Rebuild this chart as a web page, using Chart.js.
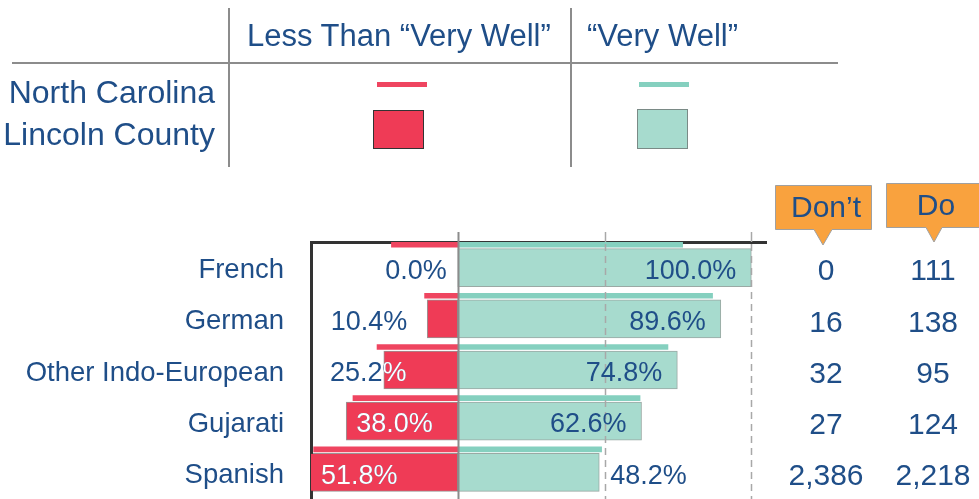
<!DOCTYPE html>
<html>
<head>
<meta charset="utf-8">
<script src="https://cdn.jsdelivr.net/npm/chart.js@4.4.1/dist/chart.umd.min.js"></script>
<style>
  html, body { margin: 0; padding: 0; background: #fff; overflow: hidden; }
  #wrap { position: relative; width: 979px; height: 499px; font-family: "Liberation Sans", Arial, sans-serif; color: #1F4E88; }
  #wrap canvas { position: absolute; left: 0; top: 0; }
  .abs { position: absolute; }
  .txt { font-size: 31px; height: 36px; line-height: 36px; white-space: nowrap; }
  .row { font-size: 32px; }
  .rule { background: #8c8c8c; }
</style>
</head>
<body>
<div id="wrap">
  <canvas id="chart" width="979" height="499"></canvas>

  <!-- legend table -->
  <div class="abs rule" style="left:12px; top:62px; width:826px; height:2px;"></div>
  <div class="abs rule" style="left:228px; top:8px; width:2px; height:159px;"></div>
  <div class="abs rule" style="left:570px; top:8px; width:2px; height:159px;"></div>
  <div class="abs txt" style="left:247px; top:18px;">Less Than “Very Well”</div>
  <div class="abs txt" style="left:587px; top:18px;">“Very Well”</div>
  <div class="abs txt row" style="right:764px; top:74px; text-align:right;">North Carolina</div>
  <div class="abs txt row" style="right:764px; top:116px; text-align:right;">Lincoln County</div>
  <div class="abs" style="left:377px; top:82px; width:50px; height:5px; background:#EF4560;"></div>
  <div class="abs" style="left:639px; top:82px; width:50px; height:5px; background:#85D0BF;"></div>
  <div class="abs" style="left:373px; top:110px; width:49px; height:37px; background:#EF3B56; border:1px solid #333;"></div>
  <div class="abs" style="left:637px; top:109px; width:49px; height:38px; background:#A7DBCE; border:1px solid #7a8a86;"></div>
</div>

<script>
// categories and values (percent of speakers)
const categories = ['French', 'German', 'Other Indo-European', 'Gujarati', 'Spanish'];
const lincolnLess = [0.0, 10.4, 25.2, 38.0, 51.8];
const lincolnWell = [100.0, 89.6, 74.8, 62.6, 48.2];
const ncLess = [22.6, 11.3, 27.5, 35.7, 49.1];
const ncWell = [76.6, 86.8, 71.6, 62.1, 49.0];
// counts of speakers who don't / do speak English very well
const dontCounts = ['0', '16', '32', '27', '2,386'];
const doCounts = ['111', '138', '95', '124', '2,218'];
const gridTicks = [0, 50, 100];

const BLUE = '#1F4E88';
const RED = '#EF3B56';
const NC_RED = '#EF4560';
const TEAL = '#A7DBCE';
const NC_TEAL = '#85D0BF';
const FONT = '"Liberation Sans", Arial, sans-serif';

// text centred on a cap-height basis (alphabetic baseline)
function capText(ctx, txt, x, cy, size) {
  ctx.fillText(txt, x, cy + size * 0.358);
}

function callout(ctx, l, t, r, b, tipX, tipY, hb, label, tx, ty) {
  ctx.save();
  ctx.beginPath();
  ctx.moveTo(l, t);
  ctx.lineTo(r, t);
  ctx.lineTo(r, b);
  ctx.lineTo(tipX + hb, b);
  ctx.lineTo(tipX, tipY);
  ctx.lineTo(tipX - hb, b);
  ctx.lineTo(l, b);
  ctx.closePath();
  ctx.fillStyle = '#F9A23E';
  ctx.fill();
  ctx.strokeStyle = '#a0a0a0';
  ctx.lineWidth = 1;
  ctx.stroke();
  ctx.fillStyle = BLUE;
  ctx.font = '30px ' + FONT;
  ctx.textAlign = 'center';
  ctx.textBaseline = 'alphabetic';
  capText(ctx, label, tx, ty, 30);
  ctx.restore();
}

const overlay = {
  id: 'overlay',
  afterDatasetsDraw(chart) {
    const { ctx, chartArea: a, scales: { x, y } } = chart;
    const H = chart.height;
    ctx.save();
    // vertical reference lines (above the bars)
    gridTicks.forEach(v => {
      const px = Math.round(x.getPixelForValue(v)) + 0.5;
      ctx.beginPath();
      if (v === 0) {
        ctx.strokeStyle = '#8c8c8c';
        ctx.lineWidth = 2;
        ctx.moveTo(px, a.top - 10);
        ctx.lineTo(px, H);
        ctx.stroke();
      } else {
        ctx.strokeStyle = '#a8a8a8';
        ctx.lineWidth = 1.5;
        ctx.moveTo(px, a.top - 10);
        ctx.lineTo(px, a.top);
        ctx.stroke();
        ctx.beginPath();
        ctx.setLineDash([7, 5]);
        ctx.moveTo(px, a.top + 2);
        ctx.lineTo(px, H);
        ctx.stroke();
        ctx.setLineDash([]);
      }
    });

    // percent labels
    const size = 27;
    ctx.font = size + 'px ' + FONT;
    ctx.textBaseline = 'alphabetic';
    ctx.textAlign = 'left';
    const redBars = chart.getDatasetMeta(0).data;
    categories.forEach((c, i) => {
      const cy = y.getPixelForValue(i) + 1.5;

      // less than very well (left side)
      const v = lincolnLess[i];
      const txt = v.toFixed(1) + '%';
      const w = ctx.measureText(txt).width;
      const end = Math.max(x.getPixelForValue(-v), a.left);
      let left;
      if (v >= 30) left = end + 10;
      else left = Math.max(end - (v === 0 ? 11 : 20) - w, a.left + 19);
      ctx.fillStyle = BLUE;
      capText(ctx, txt, left, cy, size);
      const bar = redBars[i].getProps(['x', 'y', 'base', 'height'], true);
      ctx.save();
      ctx.beginPath();
      ctx.rect(Math.min(bar.x, bar.base), bar.y - bar.height / 2, Math.abs(bar.base - bar.x), bar.height);
      ctx.clip();
      ctx.fillStyle = '#fff';
      capText(ctx, txt, left, cy, size);
      ctx.restore();

      // very well (right side)
      const u = lincolnWell[i];
      const t2 = u.toFixed(1) + '%';
      const w2 = ctx.measureText(t2).width;
      const e2 = x.getPixelForValue(u);
      ctx.fillStyle = BLUE;
      capText(ctx, t2, u >= 55 ? e2 - 15 - w2 : e2 + 11, cy, size);
    });

    // counts columns
    ctx.font = '30px ' + FONT;
    ctx.textAlign = 'center';
    categories.forEach((c, i) => {
      const cy = y.getPixelForValue(i) + 2;
      capText(ctx, dontCounts[i], 826, cy, 30);
      capText(ctx, doCounts[i], 933, cy, 30);
    });
    ctx.restore();
  },
  afterDraw(chart) {
    const ctx = chart.ctx;
    callout(ctx, 775.5, 185.5, 871.5, 229.5, 823, 245, 9, 'Don’t', 826, 206);
    callout(ctx, 886.5, 183.5, 990, 227.5, 934, 242, 8, 'Do', 936, 204);
  }
};

const ctx = document.getElementById('chart').getContext('2d');
new Chart(ctx, {
  type: 'bar',
  data: {
    labels: categories,
    datasets: [
      {
        label: 'Lincoln County – Less Than “Very Well”',
        data: lincolnLess.map(v => -v),
        yAxisID: 'y',
        backgroundColor: RED,
        borderColor: 'rgba(70,60,60,0.55)',
        borderWidth: 1,
        borderSkipped: false,
        barThickness: 38,
        grouped: false
      },
      {
        label: 'Lincoln County – “Very Well”',
        data: lincolnWell,
        yAxisID: 'y',
        backgroundColor: TEAL,
        borderColor: 'rgba(120,140,134,0.75)',
        borderWidth: 1,
        borderSkipped: false,
        barThickness: 38,
        grouped: false
      },
      {
        label: 'North Carolina – Less Than “Very Well”',
        data: ncLess.map((v, i) => ({ x: -v, y: i })),
        yAxisID: 'yNC',
        backgroundColor: NC_RED,
        borderWidth: 0,
        barThickness: 5,
        grouped: false
      },
      {
        label: 'North Carolina – “Very Well”',
        data: ncWell.map((v, i) => ({ x: v, y: i })),
        yAxisID: 'yNC',
        backgroundColor: NC_TEAL,
        borderWidth: 0,
        barThickness: 5,
        grouped: false
      }
    ]
  },
  options: {
    indexAxis: 'y',
    responsive: false,
    animation: false,
    layout: { padding: { top: 242, bottom: 1, left: 0, right: 213 } },
    scales: {
      x: {
        position: 'top',
        min: -50,
        max: 105,
        ticks: { display: false },
        grid: { display: false, drawTicks: false },
        border: { color: '#333', width: 3 }
      },
      y: {
        position: 'left',
        grid: { display: false, drawTicks: false },
        border: { color: '#333', width: 3 },
        ticks: { color: BLUE, font: { size: 27.5, family: FONT }, padding: 27, labelOffset: 3 },
        afterFit(s) {
          s.width = 311;
          s.paddingTop = 0;
          s.paddingBottom = 0;
        }
      },
      yNC: {
        type: 'linear',
        display: false,
        offset: false,
        reverse: true,
        min: -0.05,
        max: 4.95
      }
    },
    plugins: {
      legend: { display: false },
      tooltip: { enabled: false }
    }
  },
  plugins: [overlay]
});
</script>
</body>
</html>
